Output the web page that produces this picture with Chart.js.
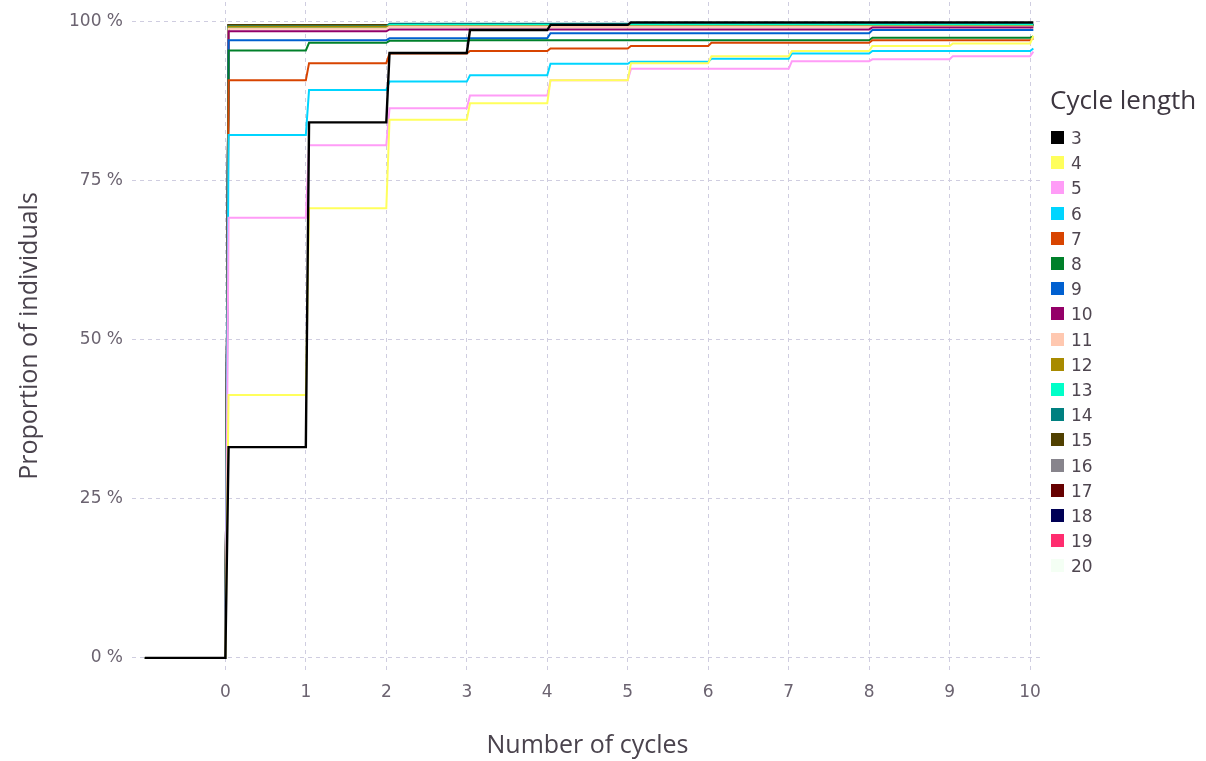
<!DOCTYPE html>
<html>
<head>
<meta charset="utf-8">
<script src="https://cdn.jsdelivr.net/npm/chart.js@4.4.1/dist/chart.umd.min.js"></script>
<style>
  body { margin: 0; background: #fff; }
  #wrap { position: relative; width: 1206px; height: 761px; }
  #legend { position: absolute; left: 1050px; top: 0; font-family: "DejaVu Sans", sans-serif; }
  #legend .ttl { position: absolute; left: 0; top: 80px; white-space: nowrap;
    font-family: "Open Sans", sans-serif; font-size: 26px; color: #3d3640; line-height: 38px; }
  #legend .it { position: absolute; left: 1px; height: 20px; white-space: nowrap; }
  #legend .bx { position: absolute; left: 0; top: 3px; width: 13px; height: 13px; }
  #legend .lb { position: absolute; left: 20px; top: 0; font-size: 17px; line-height: 20px; color: #4f4650; }
</style>
</head>
<body>
<div id="wrap">
  <canvas id="chart"></canvas>
  <div id="legend"></div>
</div>
<script>
// cycle lengths (legend entries) and their colours
const cycleLengths = ['3', '4', '5', '6', '7', '8', '9', '10', '11', '12', '13', '14', '15', '16', '17', '18', '19', '20'];
const colors = ['#000000', '#ffff5c', '#ff9cf7', '#00d5ff', '#d84400', '#00802a', '#0060d0', '#940068', '#ffc8b0',
                '#a88a00', '#00ffc8', '#008080', '#504000', '#87848c', '#660000', '#000055', '#ff2d6f', '#f4fff4'];

// number of cycles (x) and tick labels
const cycles = [0, 1, 2, 3, 4, 5, 6, 7, 8, 9, 10];
const yTicks = [0, 25, 50, 75, 100];

// cumulative proportion (%) reached at each cycle count 0..10, one array per cycle length
const len3  = [33.1, 84.1, 95.0, 98.6, 99.4, 99.8, 99.8, 99.8, 99.8, 99.8, 99.8];
const len4  = [41.3, 70.6, 84.5, 87.1, 90.7, 93.4, 94.5, 95.3, 96.1, 96.5, 97.7];
const len5  = [69.1, 80.5, 86.3, 88.3, 90.7, 92.5, 92.5, 93.7, 94.0, 94.5, 95.2];
const len6  = [82.1, 89.2, 90.5, 91.5, 93.3, 93.6, 94.1, 94.9, 95.3, 95.3, 95.7];
const len7  = [90.7, 93.4, 94.9, 95.3, 95.7, 96.1, 96.6, 96.6, 97.0, 97.0, 97.3];
const len8  = [95.4, 96.6, 96.9, 97.0, 97.0, 97.0, 97.0, 97.0, 97.4, 97.4, 97.6];
const len9  = [97.0, 97.0, 97.3, 97.3, 98.1, 98.1, 98.1, 98.1, 98.6, 98.6, 98.6];
const len10 = [98.4, 98.4, 98.7, 98.7, 98.7, 98.7, 98.7, 98.7, 99.0, 99.0, 99.0];
const len11 = [98.8, 98.8, 99.1, 99.1, 99.1, 99.1, 99.1, 99.1, 99.1, 99.1, 99.1];
const len12 = [99.1, 99.1, 99.2, 99.2, 99.2, 99.2, 99.2, 99.2, 99.2, 99.2, 99.2];
const len13 = [99.0, 99.0, 99.4, 99.4, 99.4, 99.4, 99.4, 99.4, 99.4, 99.4, 99.4];
const len14 = [99.2, 99.2, 99.6, 99.6, 99.6, 99.6, 99.6, 99.6, 99.6, 99.6, 99.6];
const len15 = [99.4, 99.4, 99.4, 99.4, 99.4, 99.4, 99.4, 99.4, 99.4, 99.4, 99.4];
const len16 = [99.4, 99.4, 99.4, 99.4, 99.4, 99.4, 99.4, 99.4, 99.4, 99.4, 99.4];
const len17 = [99.4, 99.4, 99.4, 99.4, 99.4, 99.4, 99.4, 99.4, 99.4, 99.4, 99.4];
const len18 = [99.4, 99.4, 99.4, 99.4, 99.4, 99.4, 99.4, 99.4, 99.4, 99.4, 99.4];
const len19 = [99.4, 99.4, 99.4, 99.4, 99.4, 99.4, 99.4, 99.4, 99.4, 99.4, 99.4];
const len20 = [99.4, 99.4, 99.4, 99.4, 99.4, 99.4, 99.4, 99.4, 99.4, 99.4, 99.4];

const series = [len3, len4, len5, len6, len7, len8, len9, len10, len11, len12,
                len13, len14, len15, len16, len17, len18, len19, len20];

// turn values into step points; the rise happens just after each whole cycle
function stepPoints(values) {
    const rise = 0.04;
    const pts = [{ x: -1, y: 0 }, { x: cycles[0], y: 0 }];
    values.forEach((v, i) => {
        pts.push({ x: cycles[i] + rise, y: v });
        if (i + 1 < cycles.length) pts.push({ x: cycles[i + 1], y: v });
    });
    return pts;
}

const datasets = series.map((values, i) => ({
    label: cycleLengths[i],
    data: stepPoints(values),
    borderColor: colors[i],
    backgroundColor: colors[i],
    borderWidth: i === 0 ? 2.4 : 2,
    pointRadius: 0,
    fill: false,
    tension: 0
}));

const tickColor = '#6b6370';
const titleColor = '#4a434d';
const gridColor = '#cfcde0';

new Chart(document.getElementById('chart'), {
    type: 'line',
    data: { datasets },
    options: {
        responsive: true,
        maintainAspectRatio: false,
        animation: false,
        layout: { padding: { left: 0, right: 163, top: 2, bottom: 0 } },
        plugins: { legend: { display: false }, tooltip: { enabled: false } },
        scales: {
            x: {
                type: 'linear',
                min: -1.16,
                max: 10.16,
                afterBuildTicks: scale => { scale.ticks = cycles.map(v => ({ value: v })); },
                afterFit: scale => { scale.height = 91; scale.paddingLeft = 0; scale.paddingRight = 0; },
                border: { display: false, dash: [4, 4] },
                grid: { color: gridColor, lineWidth: 1, drawTicks: false, tickLength: 0 },
                ticks: { color: tickColor, padding: 12, font: { family: 'DejaVu Sans', size: 17 } },
                title: {
                    display: true,
                    text: 'Number of cycles',
                    color: titleColor,
                    padding: { top: 4, bottom: 0 },
                    font: { family: 'Open Sans', size: 25 }
                }
            },
            y: {
                type: 'linear',
                min: -1.9,
                max: 103,
                afterBuildTicks: scale => { scale.ticks = yTicks.map(v => ({ value: v })); },
                afterFit: scale => { scale.width = 132; scale.paddingTop = 0; scale.paddingBottom = 0; },
                border: { display: false, dash: [4, 4] },
                grid: { color: gridColor, lineWidth: 1, drawTicks: false, tickLength: 0 },
                ticks: {
                    color: tickColor,
                    padding: 9,
                    font: { family: 'DejaVu Sans', size: 17 },
                    callback: v => v + ' %'
                },
                title: {
                    display: true,
                    text: 'Proportion of individuals',
                    color: titleColor,
                    padding: { top: 15, bottom: 0 },
                    font: { family: 'Open Sans', size: 25 }
                }
            }
        }
    }
});

// legend on the right
const legend = document.getElementById('legend');
legend.innerHTML = '<div class="ttl">Cycle length</div>';
cycleLengths.forEach((name, i) => {
    const item = document.createElement('div');
    item.className = 'it';
    item.style.top = (128 + i * 25.2) + 'px';
    item.innerHTML = '<span class="bx" style="background:' + colors[i] + '"></span><span class="lb">' + name + '</span>';
    legend.appendChild(item);
});
</script>
</body>
</html>
